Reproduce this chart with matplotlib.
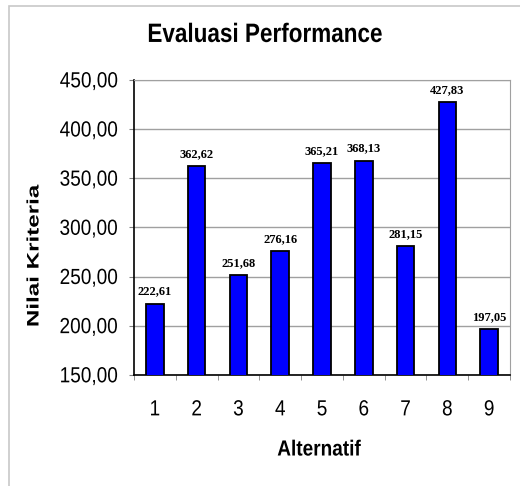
import numpy as np
import matplotlib.pyplot as plt
from matplotlib.patches import Rectangle
from matplotlib.patheffects import AbstractPathEffect
from matplotlib.transforms import Affine2D
from matplotlib.ticker import FuncFormatter, MultipleLocator

alternatif = [1, 2, 3, 4, 5, 6, 7, 8, 9]
nilai = [222.61, 362.62, 251.68, 276.16, 365.21, 368.13, 281.15, 427.83, 197.05]
y_ticks = [150, 200, 250, 300, 350, 400, 450]


class Stretch(AbstractPathEffect):
    """Scale a text path about its own centre (narrow/tall lettering)."""

    def __init__(self, sx=1.0, sy=1.0):
        super().__init__()
        self._sx, self._sy = sx, sy

    def draw_path(self, renderer, gc, tpath, affine, rgbFace=None):
        box = tpath.get_extents(affine)
        cx, cy = (box.x0 + box.x1) / 2, (box.y0 + box.y1) / 2
        scale = (Affine2D().translate(-cx, -cy)
                 .scale(self._sx, self._sy).translate(cx, cy))
        renderer.draw_path(gc, tpath, affine + scale, rgbFace)


tall = [Stretch(sy=1.15)]

fig = plt.figure(figsize=(5.2, 4.86), dpi=100)
ax = fig.add_axes([134 / 520, 1 - 375 / 486, 376 / 520, 295 / 486])

# light grey frame around the chart
fig.patches.append(Rectangle((9 / 520, -0.1), 1.2, 1.1 - 6 / 486,
                             transform=fig.transFigure, fill=False,
                             edgecolor='#c8c8c8', linewidth=1.2))

x = np.arange(len(alternatif))
ax.bar(x, nilai, width=0.42, color='#0000ff', edgecolor='black',
       linewidth=1.3, zorder=3)

for xi, v in zip(x, nilai):
    ax.annotate(f'{v:.2f}'.replace('.', ','), (xi, v), xytext=(0, 6.5),
                textcoords='offset points', ha='center', va='baseline',
                fontsize=9, fontweight='bold', family='Liberation Serif')

ax.set_xlim(-0.5, len(alternatif) - 0.5)
ax.set_ylim(150, 450)
ax.set_yticks(y_ticks)
ax.yaxis.set_major_formatter(FuncFormatter(lambda v, p: f'{v:.2f}'.replace('.', ',')))
ax.set_xticks(x)
ax.set_xticklabels([str(a) for a in alternatif])
ax.xaxis.set_minor_locator(MultipleLocator(1, offset=0.5))
ax.tick_params(axis='x', which='major', length=0, pad=19)
ax.tick_params(axis='x', which='minor', length=3.6, color='#808080', direction='out')
ax.tick_params(axis='y', length=3.6, color='#808080', direction='out', pad=8)
for lab in ax.get_xticklabels() + ax.get_yticklabels():
    lab.set_family('Liberation Sans')
    lab.set_fontsize(13.7)
    lab.set_path_effects(tall)

ax.grid(axis='y', color='#a0a0a0', linewidth=1, zorder=0)
ax.spines['left'].set_color('black')
ax.spines['bottom'].set_color('black')
ax.spines['left'].set_linewidth(1.2)
ax.spines['bottom'].set_linewidth(1.2)
ax.spines['top'].set_color('#a0a0a0')
ax.spines['right'].set_color('#a0a0a0')

fig.text(319 / 520, 1 - 450 / 486, 'Alternatif', ha='center', va='center',
         family='Liberation Sans', fontweight='bold', fontsize=13.7,
         path_effects=tall)
fig.text(34 / 520, 1 - 256 / 486, 'Nilai Kriteria', ha='center', va='center',
         rotation=90, family='Liberation Sans', fontweight='bold', fontsize=12,
         path_effects=[Stretch(sy=1.45)])
fig.text(265 / 520, 1 - 35 / 486, 'Evaluasi Performance', ha='center',
         va='center', family='Liberation Sans', fontweight='bold',
         fontsize=16.2, path_effects=[Stretch(sy=1.18)])

fig.savefig('out.png', dpi=100)
